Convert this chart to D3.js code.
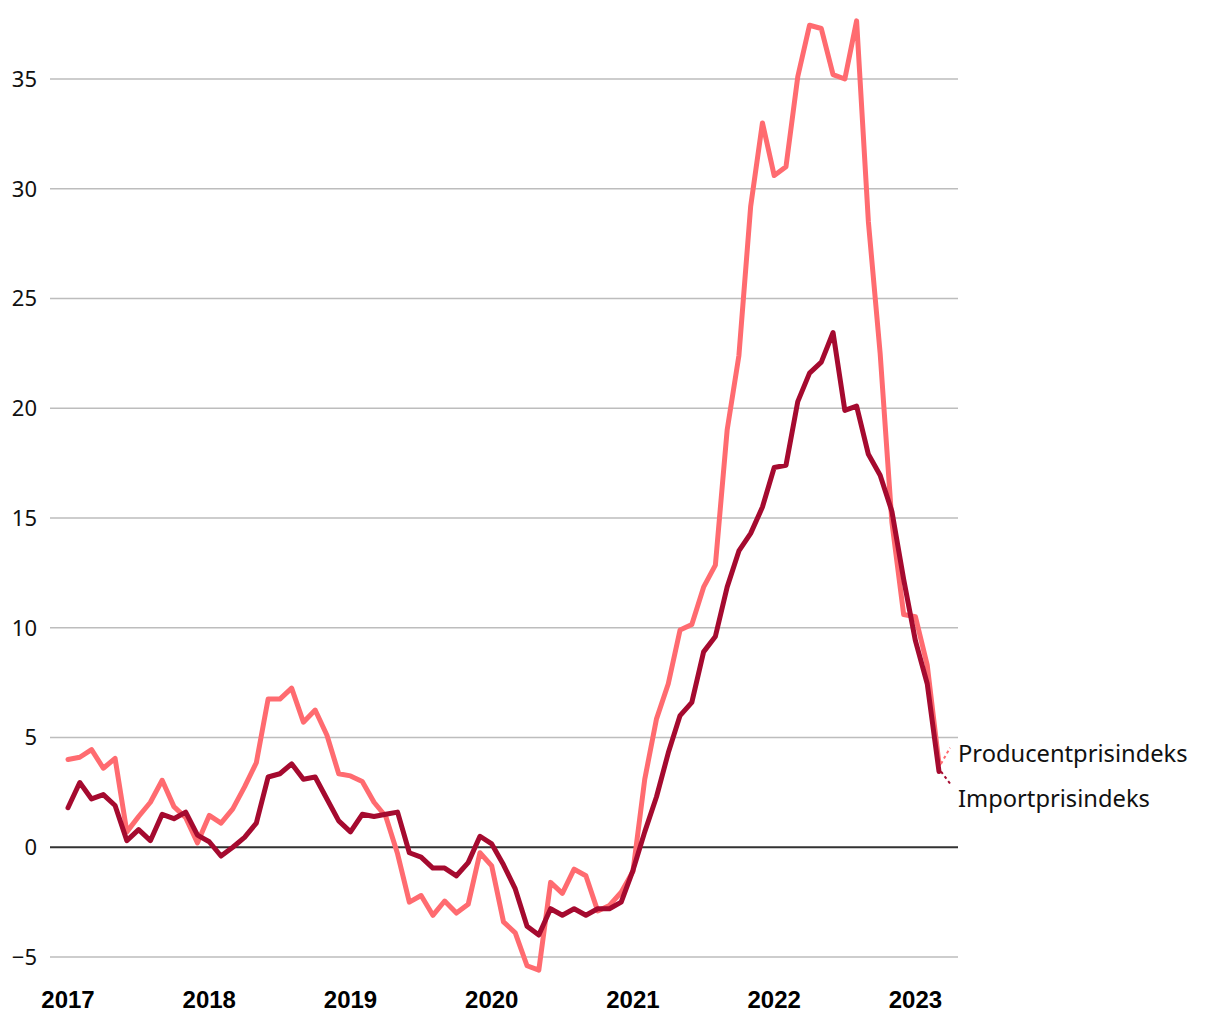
<!DOCTYPE html>
<html>
<head>
<meta charset="utf-8">
<script src="https://cdn.jsdelivr.net/npm/d3@7"></script>
<style>
  body { margin: 0; background: #fff; }
  .ytick { font-family: "Noto Sans", sans-serif; font-size: 22px; fill: #111; }
  .xtick { font-family: "Liberation Sans", Arial, sans-serif; font-weight: bold; font-size: 24px; fill: #000; }
  .lbl { font-family: "Noto Sans", sans-serif; font-size: 23.7px; fill: #111; }
</style>
</head>
<body>
<div id="chart"></div>
<script>
// monthly, jan 2017 - mar 2023
var startYear = 2017;
var years = [2017, 2018, 2019, 2020, 2021, 2022, 2023];
var yTicks = [-5, 0, 5, 10, 15, 20, 25, 30, 35];

var producent = [
    4.0, 4.1, 4.45, 3.6, 4.05, 0.7, 1.4, 2.05, 3.05, 1.85, 1.35, 0.2,
    1.45, 1.1, 1.75, 2.75, 3.85, 6.75, 6.75, 7.25, 5.7, 6.25, 5.1, 3.35,
    3.25, 3.0, 2.05, 1.4, -0.3, -2.5, -2.2, -3.1, -2.45, -3.0, -2.6, -0.25,
    -0.85, -3.4, -3.9, -5.4, -5.6, -1.6, -2.1, -1.0, -1.3, -2.9, -2.65, -2.05,
    -1.1, 3.1, 5.85, 7.45, 9.9, 10.15, 11.85, 12.85, 19.0, 22.4, 29.2, 33.0,
    30.6, 31.0, 35.1, 37.45, 37.3, 35.2, 35.0, 37.65, 28.5, 22.5, 14.8, 10.6,
    10.5, 8.3, 3.8
];
var import_ = [
    1.8, 2.95, 2.2, 2.4, 1.9, 0.3, 0.8, 0.3, 1.5, 1.3, 1.6, 0.55,
    0.25, -0.4, 0.0, 0.45, 1.1, 3.2, 3.35, 3.8, 3.1, 3.2, 2.2, 1.2,
    0.7, 1.5, 1.4, 1.5, 1.6, -0.25, -0.45, -0.95, -0.95, -1.3, -0.7, 0.5,
    0.15, -0.8, -1.9, -3.6, -4.0, -2.8, -3.1, -2.8, -3.1, -2.8, -2.8, -2.5,
    -1.05, 0.7, 2.3, 4.3, 6.0, 6.6, 8.9, 9.6, 11.85, 13.5, 14.3, 15.5,
    17.3, 17.4, 20.3, 21.6, 22.1, 23.45, 19.9, 20.1, 17.9, 16.95, 15.3, 12.2,
    9.4, 7.45, 3.45
];

var series = [
    {name: "Producentprisindeks", values: producent, color: "#ff6b70", dy: -16, ty: 762},
    {name: "Importprisindeks", values: import_, color: "#a50a2f", dy: 12, ty: 807}
];

var width = 1220, height = 1020;

var svg = d3.select("#chart").append("svg")
    .attr("width", width)
    .attr("height", height);

var x = d3.scaleLinear().domain([0, producent.length - 1]).range([68, 939]);
var y = d3.scaleLinear().domain([-5, 35]).range([957, 79]);

// grid
var grid = svg.append("g").attr("class", "grid");
grid.selectAll("line")
    .data(yTicks)
    .enter().append("line")
    .attr("x1", 50)
    .attr("x2", 958)
    .attr("y1", function(d) { return y(d); })
    .attr("y2", function(d) { return y(d); })
    .attr("stroke", function(d) { return d === 0 ? "#333" : "#bdbdbd"; })
    .attr("stroke-width", function(d) { return d === 0 ? 1.8 : 1.5; });

grid.selectAll("text")
    .data(yTicks)
    .enter().append("text")
    .attr("class", "ytick")
    .attr("x", 37)
    .attr("y", function(d) { return y(d); })
    .attr("dy", "0.36em")
    .attr("text-anchor", "end")
    .text(function(d) { return d < 0 ? "\u2212" + Math.abs(d) : d; });

// year labels
svg.append("g").selectAll("text")
    .data(years)
    .enter().append("text")
    .attr("class", "xtick")
    .attr("x", function(d) { return x((d - startYear) * 12); })
    .attr("y", 1008)
    .attr("text-anchor", "middle")
    .text(function(d) { return d; });

var line = d3.line()
    .x(function(d, i) { return x(i); })
    .y(function(d) { return y(d); });

var lines = svg.append("g").attr("class", "lines");
lines.selectAll("path")
    .data(series)
    .enter().append("path")
    .attr("d", function(d) { return line(d.values); })
    .attr("fill", "none")
    .attr("stroke", function(d) { return d.color; })
    .attr("stroke-width", 5)
    .attr("stroke-linejoin", "round")
    .attr("stroke-linecap", "round");

// end labels with little dashed connectors
var labels = svg.append("g").attr("class", "labels");
labels.selectAll("line")
    .data(series)
    .enter().append("line")
    .attr("x1", function(d) { return x(d.values.length - 1) + 2; })
    .attr("y1", function(d) { return y(d.values[d.values.length - 1]); })
    .attr("x2", 950)
    .attr("y2", function(d) { return y(d.values[d.values.length - 1]) + d.dy; })
    .attr("stroke", function(d) { return d.color; })
    .attr("stroke-width", 2)
    .attr("stroke-dasharray", "3,3");

labels.selectAll("text")
    .data(series)
    .enter().append("text")
    .attr("class", "lbl")
    .attr("x", 958)
    .attr("y", function(d) { return d.ty; })
    .text(function(d) { return d.name; });
</script>
</body>
</html>
